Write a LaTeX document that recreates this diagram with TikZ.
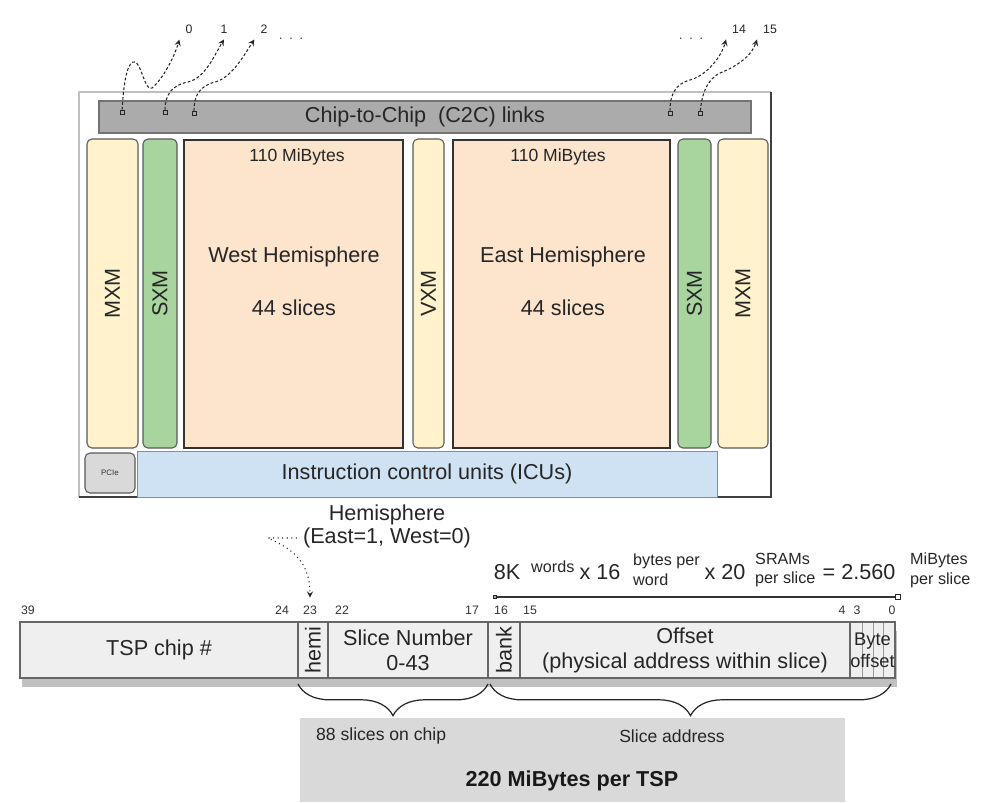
\documentclass[tikz,border=0pt]{standalone}
\usepackage{fontspec}
\setmainfont{Liberation Sans}
\usetikzlibrary{shapes,arrows,positioning,fit,calc,shadows,decorations.pathreplacing}
\definecolor{mxmyellow}{RGB}{255,242,204}
\definecolor{sxmgreen}{RGB}{168,213,158}
\definecolor{hemipeach}{RGB}{252,228,205}
\definecolor{icublue}{RGB}{207,226,243}
\definecolor{linkgray}{RGB}{171,171,171}
\definecolor{fieldgray}{RGB}{239,239,239}
\definecolor{boxgray}{RGB}{217,217,217}
\newcommand{\mainfs}{\fontsize{12.3}{14.2}\selectfont}
\newcommand{\memfs}{\fontsize{10}{12}\selectfont}
\newcommand{\eqfs}{\fontsize{9.2}{11.3}\selectfont}
\newcommand{\bytefs}{\fontsize{10.4}{12.5}\selectfont}
\newcommand{\bitfs}{\fontsize{7}{8}\selectfont}
\newcommand{\pciefs}{\fontsize{4.5}{5}\selectfont}
\tikzset{
  blk/.style={inner sep=0pt, outer sep=0pt},
  unitbox/.style={blk, draw=black!65, rounded corners=2.8pt, line width=0.6pt},
  hemibox/.style={blk, draw=black!80, line width=1.2pt, fill=hemipeach},
  field/.style={blk, draw=black!60, line width=0.9pt, fill=fieldgray},
  txt/.style={font=\mainfs, text=black!85, align=center},
  port/.style={draw=black!85, fill=linkgray, minimum size=2.2pt, inner sep=0pt},
  portlbl/.style={font=\bitfs, text=black!85},
  linkarrow/.style={->, >=stealth, black!85, line width=0.6pt, dash pattern=on 1.6pt off 1.2pt},
  bitnum/.style={font=\bitfs, text=black!80},
  vlbl/.style={font=\mainfs, text=black!85, rotate=90},
  eqbig/.style={font=\mainfs, text=black!85},
  eqsmall/.style={font=\eqfs, text=black!85, align=left, anchor=west, inner xsep=0.5pt},
  bracedec/.style={decorate, decoration={brace, mirror, amplitude=18pt}, black!85, line width=0.7pt}
}
\begin{document}
\begin{tikzpicture}[x=0.02cm, y=-0.02cm]
  \useasboundingbox (0,0) rectangle (997,802);

  % chip outline
  \draw[black!25, line width=0.6pt] (79,497) -- (79,92) -- (771,92);
  \draw[black!75, line width=1pt] (771,92) -- (771,497) -- (79,497);

  % C2C links
  \node[blk, fill=linkgray, draw=black!55, line width=0.6pt, fit={(99,101) (751,133)}] (c2c) {};
  \node[txt] (c2clbl) at (c2c) {Chip-to-Chip\ \ (C2C) links};
  \node[port] (p0) at (122,112) {};
  \node[port] (p1) at (165,112) {};
  \node[port] (p2) at (194,113) {};
  \node[port] (p14) at (670,113) {};
  \node[port] (p15) at (700,113) {};

  \node[portlbl] (l0) at (189,29) {0};
  \node[portlbl] (l1) at (224,29) {1};
  \node[portlbl] (l2) at (264,29) {2};
  \node[portlbl] (dotsw) at (291,39) {.\ \ .\ \ .};
  \node[portlbl] (dotse) at (691,39) {.\ \ .\ \ .};
  \node[portlbl] (l14) at (739,29) {14};
  \node[portlbl] (l15) at (770,29) {15};

  \draw[linkarrow] (p0) .. controls (124,75) and (129,60) .. (135,62) .. controls (142,65) and (145,92) .. (152,88) .. controls (162,80) and (174,58) .. (l0.south west);
  \draw[linkarrow] (p1) .. controls (165,95) and (172,85) .. (188,82) .. controls (205,78) and (214,56) .. (l1.south);
  \draw[linkarrow] (p2) .. controls (194,95) and (200,86) .. (215,82) .. controls (232,78) and (246,52) .. (l2.south west);
  \draw[linkarrow] (p14) .. controls (670,95) and (675,84) .. (690,80) .. controls (708,75) and (722,55) .. (l14.south west);
  \draw[linkarrow] (p15) .. controls (702,95) and (706,80) .. (720,73) .. controls (738,66) and (752,55) .. (l15.south west);

  % functional units
  \node[unitbox, fill=mxmyellow, fit={(87,139) (138,448)}] (mxmw) {};
  \node[unitbox, fill=sxmgreen, fit={(143,139) (177,448)}] (sxmw) {};
  \node[unitbox, fill=mxmyellow, fit={(413,139) (444,448)}] (vxm) {};
  \node[unitbox, fill=sxmgreen, fit={(678,139) (711,448)}] (sxme) {};
  \node[unitbox, fill=mxmyellow, fit={(718,139) (768,448)}] (mxme) {};
  \node[vlbl] (mxmwlbl) at (mxmw) {MXM};
  \node[vlbl] (sxmwlbl) at (sxmw) {SXM};
  \node[vlbl] (vxmlbl) at (vxm) {VXM};
  \node[vlbl] (sxmelbl) at (sxme) {SXM};
  \node[vlbl] (mxmelbl) at (mxme) {MXM};

  % hemispheres
  \node[hemibox, fit={(184,140) (403,448)}] (west) {};
  \node[hemibox, fit={(453,140) (670,448)}] (east) {};
  \node[font=\memfs, text=black!85] (westmem) at (297,157) {110 MiBytes};
  \node[font=\memfs, text=black!85] (eastmem) at (558,157) {110 MiBytes};
  \node[txt] (westname) at (294,257) {West Hemisphere};
  \node[txt] (westslc) at (294,308) {44 slices};
  \node[txt] (eastname) at (563,257) {East Hemisphere};
  \node[txt] (eastslc) at (563,308) {44 slices};

  % bottom row
  \node[unitbox, fill=boxgray, fit={(85,453) (135,493)}] (pcie) {};
  \node[font=\pciefs, text=black!80] (pcielbl) at (pcie) {PCIe};
  \node[blk, fill=icublue, draw=black!45, line width=0.5pt, fit={(137,451) (717,497)}] (icu) {};
  \node[txt] (iculbl) at (icu) {Instruction control units (ICUs)};

  % hemisphere bit note
  \node[txt] (hem1) at (387,515) {Hemisphere};
  \node[txt] (hem2) at (387,538) {(East=1, West=0)};

  % bit numbers
  \foreach \bx/\bv in {28/39, 282/24, 310/23, 342/22, 472/17, 501/16, 530/15, 842/4, 857/3, 892/0}
    \node[bitnum] (b\bv) at (\bx,610) {\bv};

  \draw[black!85, line width=0.6pt, dotted, ->, >=stealth, shorten >=1pt] (hem2.west) -- (268,538) .. controls (290,548) and (310,560) .. (b23.north);

  % slice size
  \node[eqbig] (e8k) at (507,572) {8K};
  \node[eqsmall] (ewords) at (530,567) {words};
  \node[eqbig] (e16) at (600,572) {x 16};
  \node[eqsmall] (ebytes) at (632,570) {bytes per\\word};
  \node[eqbig] (e20) at (725,572) {x 20};
  \node[eqsmall] (esram) at (754,570) {SRAMs\\per slice};
  \node[eqbig] (esize) at (859,572) {= 2.560};
  \node[eqsmall] (emib) at (909,570) {MiBytes\\per slice};
  \node[port, minimum size=1.5pt] (szl) at (495,597) {};
  \node[port, fill=white, minimum size=3pt] (szr) at (898,597) {};
  \draw[black!80, line width=0.9pt] (szl) -- (szr);

  % address register
  \node[field, line width=1.2pt, draw=black!65,
        drop shadow={shadow xshift=1pt, shadow yshift=-5pt, fill=black!45, opacity=0.55},
        fit={(20,622) (895,678)}] (reg) {};
  \node[field, fit={(20,622) (298,678)}] (fchip) {};
  \node[field, fit={(298,622) (328,678)}] (fhemi) {};
  \node[field, fit={(328,622) (488,678)}] (fslice) {};
  \node[field, fit={(488,622) (520,678)}] (fbank) {};
  \node[field, fit={(520,622) (850,678)}] (foff) {};
  \node[field, fit={(850,622) (895,678)}] (fbyte) {};
  \foreach \sx in {862,873,883}
    \draw[black!40, line width=0.4pt] (\sx,623) -- (\sx,677);
  \node[txt] (chiplbl) at (fchip) {TSP chip \#};
  \node[vlbl] (hemilbl) at (fhemi) {hemi};
  \node[txt] (slicelbl) at (fslice) {Slice Number\\0-43};
  \node[vlbl] (banklbl) at (fbank) {bank};
  \node[txt] (offlbl) at (foff) {Offset\\(physical address within slice)};
  \node[font=\bytefs, text=black!85, align=center] (bytelbl) at (fbyte) {Byte\\offset};

  % braces
  \draw[bracedec] ($(fhemi.south west)+(0,6)$) -- ($(fslice.south east)+(0,6)$);
  \draw[bracedec] ($(fbank.south west)+(2,6)$) -- ($(fbyte.south east)+(-4,6)$);

  % summary box
  \node[blk, fill=boxgray, fit={(300,718) (845,802)}] (total) {};
  \node[font=\memfs, text=black!85, anchor=west] (slicecnt) at (310,736) {88 slices on chip};
  \node[font=\memfs, text=black!85] (sliceaddr) at (672,736) {Slice address};
  \node[font=\bfseries\mainfs, text=black!90] (totlbl) at (572,781) {220 MiBytes per TSP};
\end{tikzpicture}
\end{document}
